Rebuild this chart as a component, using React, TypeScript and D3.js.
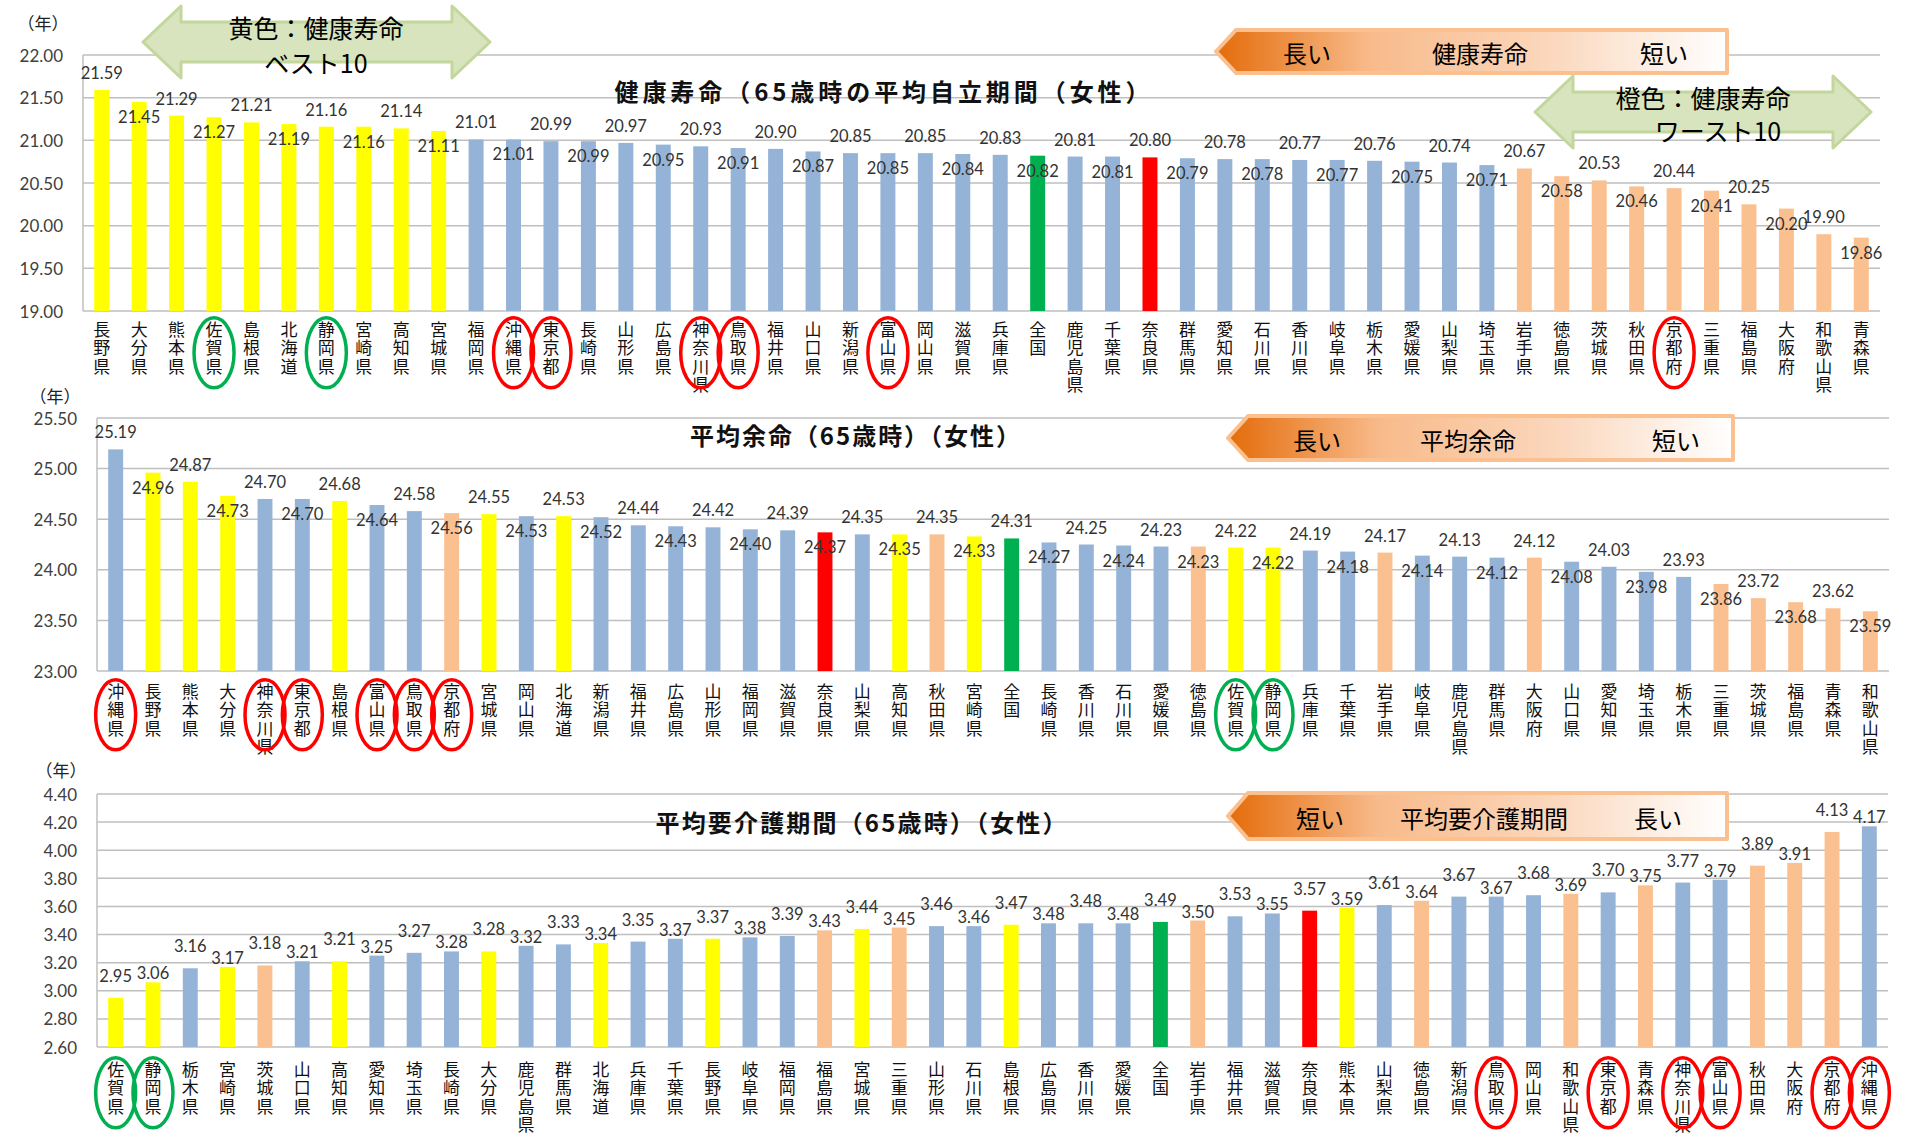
import React from 'react';
import * as d3 from 'd3';

// 健康寿命（65歳時の平均自立期間）女性
const healthyNames = [
  '長野県', '大分県', '熊本県', '佐賀県', '島根県', '北海道', '静岡県', '宮崎県', '高知県', '宮城県',
  '福岡県', '沖縄県', '東京都', '長崎県', '山形県', '広島県', '神奈川県', '鳥取県', '福井県', '山口県',
  '新潟県', '富山県', '岡山県', '滋賀県', '兵庫県', '全国', '鹿児島県', '千葉県', '奈良県', '群馬県',
  '愛知県', '石川県', '香川県', '岐阜県', '栃木県', '愛媛県', '山梨県', '埼玉県', '岩手県', '徳島県',
  '茨城県', '秋田県', '京都府', '三重県', '福島県', '大阪府', '和歌山県', '青森県',
];
const healthyValues = [
  21.59, 21.45, 21.29, 21.27, 21.21, 21.19, 21.16, 21.16, 21.14, 21.11,
  21.01, 21.01, 20.99, 20.99, 20.97, 20.95, 20.93, 20.91, 20.9, 20.87,
  20.85, 20.85, 20.85, 20.84, 20.83, 20.82, 20.81, 20.81, 20.8, 20.79,
  20.78, 20.78, 20.77, 20.77, 20.76, 20.75, 20.74, 20.71, 20.67, 20.58,
  20.53, 20.46, 20.44, 20.41, 20.25, 20.2, 19.9, 19.86,
];

// 平均余命（65歳時）女性
const lifeNames = [
  '沖縄県', '長野県', '熊本県', '大分県', '神奈川県', '東京都', '島根県', '富山県', '鳥取県', '京都府',
  '宮城県', '岡山県', '北海道', '新潟県', '福井県', '広島県', '山形県', '福岡県', '滋賀県', '奈良県',
  '山梨県', '高知県', '秋田県', '宮崎県', '全国', '長崎県', '香川県', '石川県', '愛媛県', '徳島県',
  '佐賀県', '静岡県', '兵庫県', '千葉県', '岩手県', '岐阜県', '鹿児島県', '群馬県', '大阪府', '山口県',
  '愛知県', '埼玉県', '栃木県', '三重県', '茨城県', '福島県', '青森県', '和歌山県',
];
const lifeValues = [
  25.19, 24.96, 24.87, 24.73, 24.7, 24.7, 24.68, 24.64, 24.58, 24.56,
  24.55, 24.53, 24.53, 24.52, 24.44, 24.43, 24.42, 24.4, 24.39, 24.37,
  24.35, 24.35, 24.35, 24.33, 24.31, 24.27, 24.25, 24.24, 24.23, 24.23,
  24.22, 24.22, 24.19, 24.18, 24.17, 24.14, 24.13, 24.12, 24.12, 24.08,
  24.03, 23.98, 23.93, 23.86, 23.72, 23.68, 23.62, 23.59,
];

// 平均要介護期間（65歳時）女性
const careNames = [
  '佐賀県', '静岡県', '栃木県', '宮崎県', '茨城県', '山口県', '高知県', '愛知県', '埼玉県', '長崎県',
  '大分県', '鹿児島県', '群馬県', '北海道', '兵庫県', '千葉県', '長野県', '岐阜県', '福岡県', '福島県',
  '宮城県', '三重県', '山形県', '石川県', '島根県', '広島県', '香川県', '愛媛県', '全国', '岩手県',
  '福井県', '滋賀県', '奈良県', '熊本県', '山梨県', '徳島県', '新潟県', '鳥取県', '岡山県', '和歌山県',
  '東京都', '青森県', '神奈川県', '富山県', '秋田県', '大阪府', '京都府', '沖縄県',
];
const careValues = [
  2.95, 3.06, 3.16, 3.17, 3.18, 3.21, 3.21, 3.25, 3.27, 3.28,
  3.28, 3.32, 3.33, 3.34, 3.35, 3.37, 3.37, 3.38, 3.39, 3.43,
  3.44, 3.45, 3.46, 3.46, 3.47, 3.48, 3.48, 3.48, 3.49, 3.5,
  3.53, 3.55, 3.57, 3.59, 3.61, 3.64, 3.67, 3.67, 3.68, 3.69,
  3.7, 3.75, 3.77, 3.79, 3.89, 3.91, 4.13, 4.17,
];

const healthyTicks = [19, 19.5, 20, 20.5, 21, 21.5, 22];
const lifeTicks = [23, 23.5, 24, 24.5, 25, 25.5];
const careTicks = [2.6, 2.8, 3.0, 3.2, 3.4, 3.6, 3.8, 4.0, 4.2, 4.4];

const redCircled = ['沖縄県', '東京都', '神奈川県', '鳥取県', '富山県', '京都府'];
const greenCircled = ['佐賀県', '静岡県'];

const best10 = healthyNames.slice(0, 10);
const worst10 = healthyNames.slice(-10);

const FONT_JP = '"Noto Sans CJK JP", "Noto Sans", sans-serif';
const FONT_NUM = 'Lato, "Noto Sans", sans-serif';

const colorOf = (name: string) => {
  if (name === '全国') return '#00B050';
  if (name === '奈良県') return '#FF0000';
  if (best10.includes(name)) return '#FFFF00';
  if (worst10.includes(name)) return '#FAC090';
  return '#95B3D7';
};

interface PanelProps {
  names: string[];
  values: number[];
  ticks: number[];
  left: number;
  right: number;
  top: number;
  bottom: number;
  unitX: number;
  unitY: number;
  title: string;
  titleX: number;
  titleY: number;
  titleWidth: number;
  labelTop: number;
  labelMode: 'alt' | 'above';
}

const Panel: React.FC<PanelProps> = (p) => {
  const x = d3
    .scaleBand<string>()
    .domain(p.names)
    .range([p.left, p.right])
    .paddingInner(0.6)
    .paddingOuter(0.3);
  const y = d3
    .scaleLinear()
    .domain(d3.extent(p.ticks) as [number, number])
    .range([p.bottom, p.top]);
  const fmt = d3.format('.2f');
  const bw = x.bandwidth();
  const lineH = 18.4;

  // staggered value labels, like the hand-placed Excel labels
  const labelDy = (i: number) => {
    if (p.labelMode === 'alt') return i % 2 === 0 ? -17 : 15;
    return i % 2 === 0 ? -22 : -9;
  };

  return (
    <g>
      <text x={p.unitX} y={p.unitY} fontFamily={FONT_JP} fontSize={17} textAnchor="middle" dominantBaseline="central" fill="#222">
        （年）
      </text>

      {/* grid + y axis */}
      {p.ticks.map((t) => (
        <g key={t}>
          <line x1={p.left} x2={p.right} y1={y(t)} y2={y(t)} stroke="#BFBFBF" strokeWidth={1.5} />
          <text
            x={p.left - 20}
            y={y(t)}
            textAnchor="end"
            dominantBaseline="central"
            fontFamily={FONT_NUM}
            fontSize={17}
            fill="#404040"
          >
            {fmt(t)}
          </text>
        </g>
      ))}
      <line x1={p.left} x2={p.left} y1={p.top} y2={p.bottom} stroke="#BFBFBF" strokeWidth={1.5} />

      <text
        x={p.titleX}
        y={p.titleY}
        textAnchor="middle"
        dominantBaseline="central"
        fontFamily={FONT_JP}
        fontWeight="bold"
        fontSize={24}
        textLength={p.titleWidth}
        lengthAdjust="spacing"
        fill="#111"
      >
        {p.title}
      </text>

      {/* bars */}
      {p.names.map((n, i) => (
        <rect key={n} x={x(n)} y={y(p.values[i])} width={bw} height={y.range()[0] - y(p.values[i])} fill={colorOf(n)} />
      ))}

      {/* value labels */}
      {p.names.map((n, i) => (
        <text
          key={'v' + n}
          x={(x(n) as number) + bw / 2}
          y={y(p.values[i]) + labelDy(i)}
          textAnchor="middle"
          dominantBaseline="central"
          fontFamily={FONT_NUM}
          fontSize={16.5}
          fill="#333"
        >
          {fmt(p.values[i])}
        </text>
      ))}

      {/* vertical category labels, one character per line */}
      {p.names.map((n) => (
        <text key={'c' + n} fontFamily={FONT_JP} fontSize={17} textAnchor="middle" dominantBaseline="central" fill="#111">
          {Array.from(n).map((ch, k) => (
            <tspan key={k} x={(x(n) as number) + bw / 2} y={p.labelTop + k * lineH}>
              {ch}
            </tspan>
          ))}
        </text>
      ))}

      {/* highlight circles */}
      {p.names
        .filter((n) => redCircled.includes(n) || greenCircled.includes(n))
        .map((n) => (
          <ellipse
            key={'e' + n}
            cx={(x(n) as number) + bw / 2}
            cy={p.labelTop + lineH * 1.35}
            rx={20}
            ry={35}
            fill="none"
            stroke={redCircled.includes(n) ? '#FF0000' : '#00B050'}
            strokeWidth={3.5}
          />
        ))}
    </g>
  );
};

interface OrangeArrowProps {
  id: string;
  x: number;
  y: number;
  w: number;
  h: number;
  labels: { t: string; x: number }[];
}

const OrangeArrow: React.FC<OrangeArrowProps> = ({ id, x, y, w, h, labels }) => {
  const tip = 20;
  const d = `M${x},${y + h / 2} L${x + tip},${y} L${x + w},${y} L${x + w},${y + h} L${x + tip},${y + h} Z`;
  return (
    <g>
      <defs>
        <linearGradient id={id} x1="0" x2="1" y1="0" y2="0">
          <stop offset="0" stopColor="#E46C0A" />
          <stop offset="0.3" stopColor="#F8BA8A" />
          <stop offset="0.65" stopColor="#FBD7BC" />
          <stop offset="1" stopColor="#FFFFFF" />
        </linearGradient>
      </defs>
      <path d={d} fill={`url(#${id})`} stroke="#FAC090" strokeWidth={4} strokeLinejoin="round" />
      {labels.map((l) => (
        <text key={l.t} x={l.x} y={y + h / 2 + 1} textAnchor="middle" dominantBaseline="central" fontFamily={FONT_JP} fontSize={24} fill="#000">
          {l.t}
        </text>
      ))}
    </g>
  );
};

interface GreenArrowProps {
  x1: number;
  x2: number;
  cy: number;
  lines: { t: string; x: number; y: number }[];
}

const GreenArrow: React.FC<GreenArrowProps> = ({ x1, x2, cy, lines }) => {
  const head = 38;
  const hh = 36;
  const sh = 20;
  const d = `M${x1},${cy} L${x1 + head},${cy - hh} L${x1 + head},${cy - sh} L${x2 - head},${cy - sh} L${x2 - head},${cy - hh} L${x2},${cy} L${x2 - head},${cy + hh} L${x2 - head},${cy + sh} L${x1 + head},${cy + sh} L${x1 + head},${cy + hh} Z`;
  return (
    <g>
      <path d={d} fill="#D7E4BD" stroke="#C3D69B" strokeWidth={3} strokeLinejoin="round" />
      {lines.map((l) => (
        <text key={l.t} x={l.x} y={l.y} textAnchor="middle" dominantBaseline="central" fontFamily={FONT_JP} fontSize={25} fill="#000">
          {l.t}
        </text>
      ))}
    </g>
  );
};

const App: React.FC = () => {
  return (
    <svg
      width={1907}
      height={1139}
      style={{ position: 'absolute', left: 0, top: 0, background: '#fff' }}
    >
      <Panel
        names={healthyNames}
        values={healthyValues}
        ticks={healthyTicks}
        left={83}
        right={1880}
        top={55}
        bottom={311}
        unitX={43}
        unitY={22}
        title="健康寿命（65歳時の平均自立期間（女性）"
        titleX={882}
        titleY={90}
        titleWidth={535}
        labelTop={328}
        labelMode="alt"
      />
      <Panel
        names={lifeNames}
        values={lifeValues}
        ticks={lifeTicks}
        left={97}
        right={1889}
        top={418}
        bottom={671}
        unitX={55}
        unitY={395}
        title="平均余命（65歳時）（女性）"
        titleX={855}
        titleY={434}
        titleWidth={330}
        labelTop={690}
        labelMode="alt"
      />
      <Panel
        names={careNames}
        values={careValues}
        ticks={careTicks}
        left={97}
        right={1888}
        top={794}
        bottom={1047}
        unitX={61}
        unitY={769}
        title="平均要介護期間（65歳時）（女性）"
        titleX={861}
        titleY={821}
        titleWidth={411}
        labelTop={1068}
        labelMode="above"
      />

      <GreenArrow
        x1={143}
        x2={490}
        cy={42}
        lines={[
          { t: '黄色：健康寿命', x: 316, y: 27 },
          { t: 'ベスト10', x: 316, y: 62 },
        ]}
      />
      <OrangeArrow
        id="oa1"
        x={1216}
        y={30}
        w={511}
        h={43}
        labels={[
          { t: '長い', x: 1307 },
          { t: '健康寿命', x: 1480 },
          { t: '短い', x: 1664 },
        ]}
      />
      <GreenArrow
        x1={1535}
        x2={1871}
        cy={112}
        lines={[
          { t: '橙色：健康寿命', x: 1703, y: 97 },
          { t: 'ワースト10', x: 1718, y: 130 },
        ]}
      />
      <OrangeArrow
        id="oa2"
        x={1228}
        y={416}
        w={505}
        h={44}
        labels={[
          { t: '長い', x: 1317 },
          { t: '平均余命', x: 1468 },
          { t: '短い', x: 1676 },
        ]}
      />
      <OrangeArrow
        id="oa3"
        x={1228}
        y={793}
        w={499}
        h={46}
        labels={[
          { t: '短い', x: 1320 },
          { t: '平均要介護期間', x: 1484 },
          { t: '長い', x: 1658 },
        ]}
      />
    </svg>
  );
};

export default App;
